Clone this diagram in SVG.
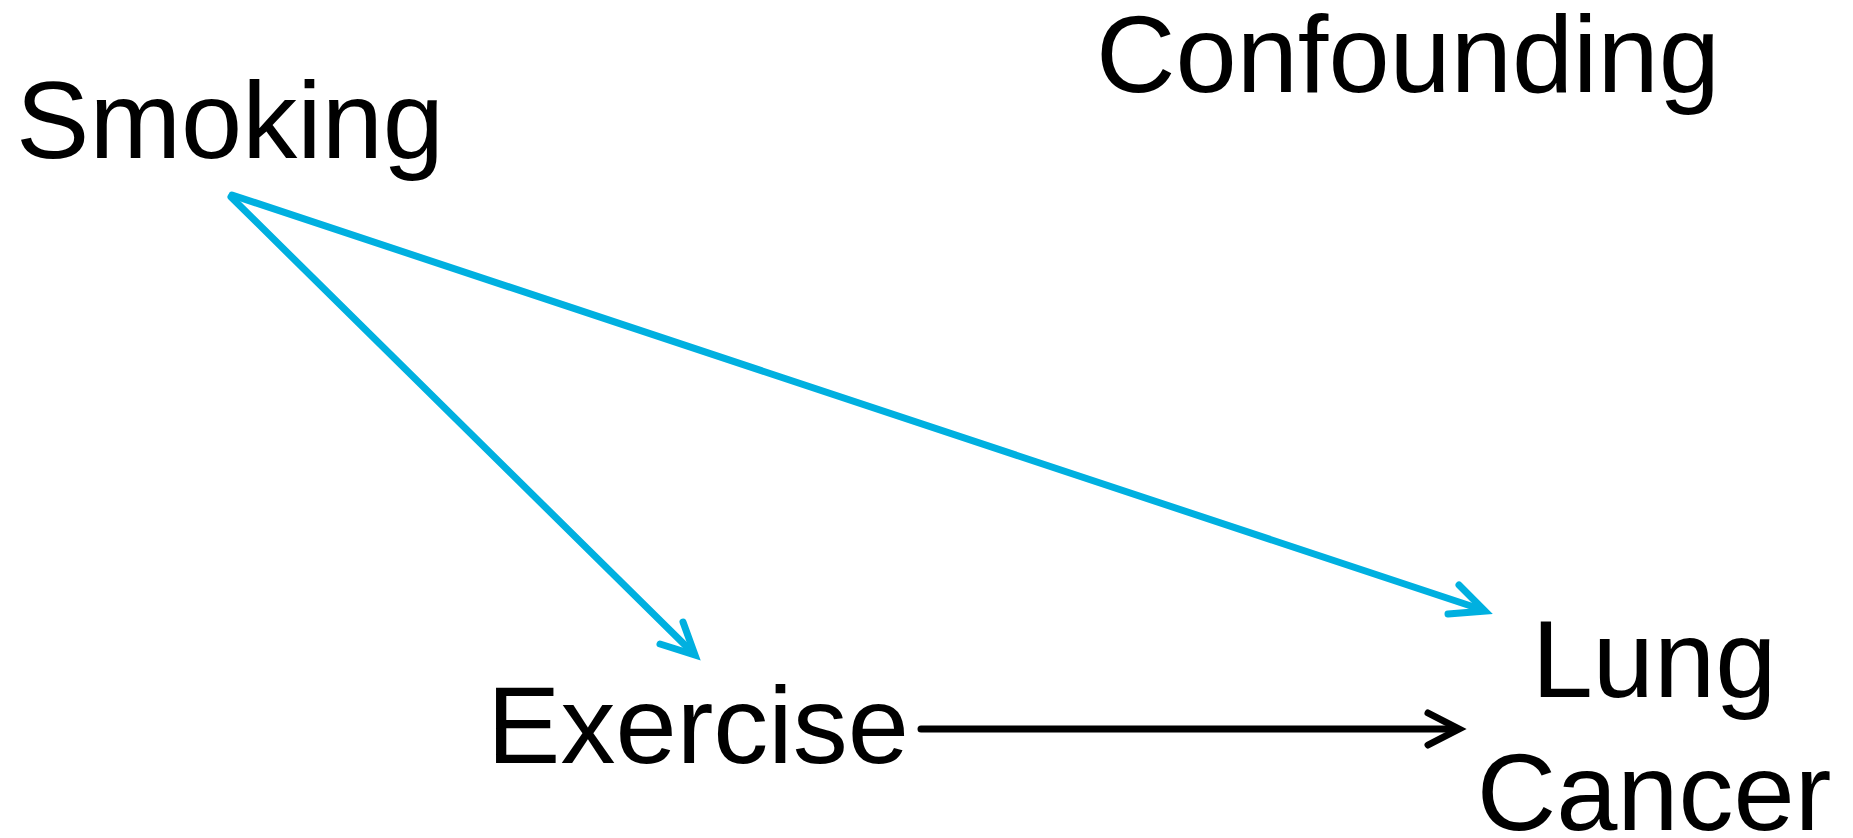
<svg xmlns="http://www.w3.org/2000/svg" width="1853" height="838" viewBox="0 0 1853 838">
  <style>
    .label { font-family: "Liberation Sans", Arial, Helvetica, sans-serif; font-size: 110px; fill: #000; text-anchor: middle; }
    .edge { fill: none; stroke-width: 7; stroke-linecap: round; stroke-linejoin: miter; stroke-miterlimit: 10; }
    .blue { stroke: #00B0E0; }
    .black { stroke: #000; }
  </style>
  <rect width="1853" height="838" fill="#fff"/>

  <g id="title">
    <text class="label" x="1408" y="92">Confounding</text>
  </g>
  <g id="node-smoking">
    <text class="label" x="230" y="158">Smoking</text>
  </g>
  <g id="node-exercise">
    <text class="label" x="698" y="763">Exercise</text>
  </g>
  <g id="node-lung-cancer">
    <text class="label" x="1654" y="697">Lung</text>
    <text class="label" x="1654" y="830">Cancer</text>
  </g>

  <g id="connectors">
    <!-- Smoking to Exercise -->
    <line class="edge blue" x1="231" y1="197" x2="691" y2="651" stroke-linecap="butt"/>
    <polyline class="edge blue" points="683,622 695,655 660,644"/>
    <!-- Smoking to Lung Cancer -->
    <line class="edge blue" x1="232" y1="195" x2="1480" y2="609" stroke-linecap="butt"/>
    <polyline class="edge blue" points="1459,585 1485,611 1448,614"/>
    <!-- Exercise to Lung Cancer -->
    <line class="edge black" x1="921" y1="729" x2="1455" y2="729" stroke-linecap="butt"/>
    <polyline class="edge black" points="1428,713 1459,729 1428,745"/>
  </g>
</svg>
